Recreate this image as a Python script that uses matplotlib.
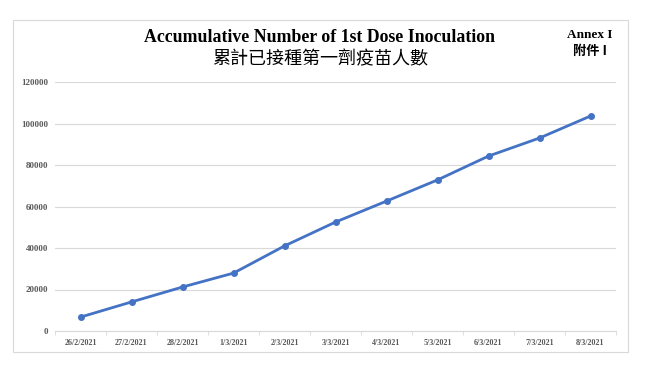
import matplotlib
matplotlib.use("Agg")
import matplotlib.pyplot as plt
from matplotlib.patches import Rectangle

dates = ["26/2/2021", "27/2/2021", "28/2/2021", "1/3/2021", "2/3/2021", "3/3/2021",
         "4/3/2021", "5/3/2021", "6/3/2021", "7/3/2021", "8/3/2021"]
values = [6700, 14000, 21200, 27900, 41000, 52500, 62600, 72800, 84300, 93000, 103600]
yticks = [0, 20000, 40000, 60000, 80000, 100000, 120000]

fig = plt.figure(figsize=(6.5, 3.68), dpi=100)
fig.patches.append(Rectangle((13/650, 1-352/368), 615/650, 332/368, transform=fig.transFigure,
                             fill=False, edgecolor="#d9d9d9", linewidth=0.8))

ax = fig.add_axes([55/650, 1-331/368, 561/650, 249/368])
x = list(range(len(dates)))
ax.plot(x, values, color="#4472C4", linewidth=2, marker="o", markersize=4)
ax.set_xlim(-0.5, len(dates) - 0.5)
ax.set_ylim(0, 120000)
ax.set_yticks(yticks)
ax.set_yticklabels([str(v) for v in yticks], fontfamily="Liberation Serif", fontweight="bold",
                   fontsize=6.5, color="#595959")
ax.set_xticks(x)
ax.set_xticklabels(dates, fontfamily="Liberation Serif", fontweight="bold", fontsize=5.8, color="#595959")
ax.set_xticks([i - 0.5 for i in range(len(dates) + 1)], minor=True)
ax.tick_params(axis="y", length=0, pad=5)
ax.tick_params(axis="x", which="major", length=0, pad=6)
ax.tick_params(axis="x", which="minor", length=3, color="#d9d9d9")
ax.grid(axis="y", color="#d9d9d9", linewidth=0.8)
ax.set_axisbelow(True)
for s in ["top", "right", "left"]:
    ax.spines[s].set_visible(False)
ax.spines["bottom"].set_color("#d9d9d9")

fig.text(320/650, 1-38/368, "Accumulative Number of 1st Dose Inoculation", ha="center", va="center",
         fontfamily="Liberation Serif", fontweight="bold", fontsize=12.8)
fig.text(320/650, 1-59/368, "累計已接種第一劑疫苗人數", ha="center", va="center",
         fontfamily=["Noto Sans CJK TC", "DejaVu Sans"], fontsize=13)
fig.text(590/650, 1-35/368, "Annex I", ha="center", va="center",
         fontfamily="Liberation Serif", fontweight="bold", fontsize=9.5)
fig.text(590/650, 1-51/368, "附件 I", ha="center", va="center",
         fontfamily=["Noto Sans CJK TC", "Liberation Serif"], fontweight="bold", fontsize=9.5)

fig.savefig("out.png", dpi=100, facecolor="white")
